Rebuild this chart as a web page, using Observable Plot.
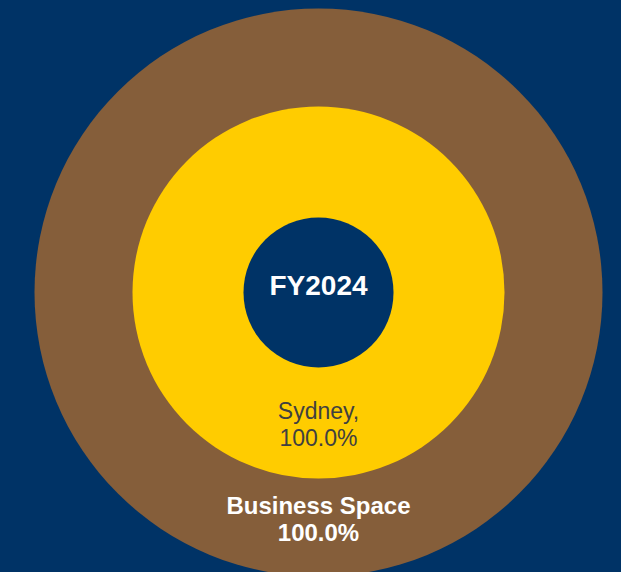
<!DOCTYPE html>
<html><head><meta charset="utf-8">
<script src="https://cdn.jsdelivr.net/npm/d3@7"></script>
<script src="https://cdn.jsdelivr.net/npm/@observablehq/plot@0.6"></script>
<style>html,body{margin:0;padding:0;background:#003366;overflow:hidden}</style>
</head><body><div id="chart"></div>
<script>
// Sunburst data (outer ring first)
const centerLabel = "FY2024";
const ringNames = ["Business Space", "Sydney"];
const ringShares = [100.0, 100.0];
const ringSeparators = ["", ","];

// layout
const W = 621, H = 572, cx = 318, cy = 292;
const ringOuterRadius = [284, 186];
const holeRadius = 75;
const labelRadius = [226, 131];
const ringColors = ["#855E3A", "#FFCC00"];

const rings = ringNames.map((name, i) => ({
  name, share: ringShares[i], r: ringOuterRadius[i],
  // centroid of a full (100%) arc starting at 12 o'clock lies at angle π
  angle: (ringShares[i] / 100) * Math.PI,
  lr: labelRadius[i],
  label: `${name}${ringSeparators[i]}\n${ringShares[i].toFixed(1)}%`
}));
const hole = [{name: centerLabel, r: holeRadius}];

const chart = Plot.plot({
  width: W, height: H, margin: 0,
  style: {background: "#003366", fontFamily: "'Liberation Sans', Arial, sans-serif"},
  x: {domain: [0, W], range: [0, W], axis: null},
  y: {domain: [0, H], range: [0, H], axis: null},
  r: {type: "identity"},
  color: {domain: [...ringNames, centerLabel], range: [...ringColors, "#003366"]},
  marks: [
    Plot.dot(rings, {x: () => cx, y: () => cy, r: "r", fill: "name", stroke: null}),
    Plot.dot(hole, {x: () => cx, y: () => cy, r: "r", fill: "name", stroke: null}),
    Plot.text(rings.slice(0, 1), {
      x: d => cx + d.lr * Math.sin(d.angle), y: d => cy - d.lr * Math.cos(d.angle),
      text: "label", fill: "white", fontSize: 24, fontWeight: "bold", lineHeight: 1.12
    }),
    Plot.text(rings.slice(1), {
      x: d => cx + d.lr * Math.sin(d.angle), y: d => cy - d.lr * Math.cos(d.angle),
      text: "label", fill: "#404040", fontSize: 23, lineHeight: 1.2
    }),
    Plot.text(hole, {x: () => cx, y: () => cy - 6, text: "name", fill: "white", fontSize: 28, fontWeight: "bold"})
  ]
});
document.getElementById("chart").append(chart);
</script>
</body></html>
